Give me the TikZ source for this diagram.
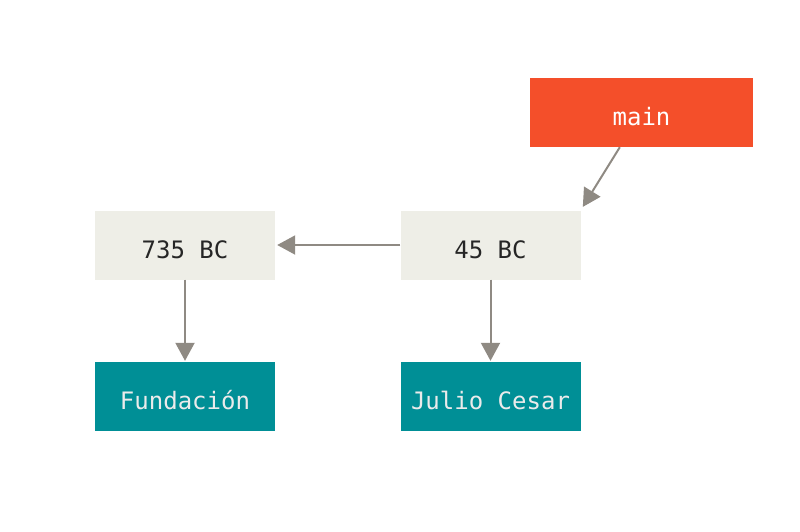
\documentclass[tikz,border=0pt]{standalone}
\usepackage{fontspec}
\setmonofont{DejaVu Sans Mono}
\usetikzlibrary{arrows.meta}
\definecolor{commitgray}{HTML}{EEEEE7}
\definecolor{branchred}{HTML}{F44F2A}
\definecolor{tagteal}{HTML}{008F96}
\definecolor{arrowgray}{HTML}{8F8A83}
\tikzstyle{commitbox} = [fill=commitgray, text=black!85, rectangle, minimum width=180pt,
    minimum height=69pt, inner sep=0pt, text height=26pt, text depth=0pt,
    font=\ttfamily\fontsize{24}{28}\selectfont]
\tikzstyle{branchbox} = [commitbox, fill=branchred, text=white, minimum width=223pt]
\tikzstyle{tagbox} = [commitbox, fill=tagteal, text=white!92!black]
\tikzstyle{pointer} = [draw=arrowgray, line width=2pt,
    -{Triangle[length=18pt,width=19pt]}, arrowgray]

\begin{document}
\begin{tikzpicture}[x=1pt, y=-1pt]
                \useasboundingbox (0,0) rectangle (800,531);
                \node [branchbox] (main) at (641.5,112.5) {main};
                \node [commitbox] (c735) at (185,245) {735 BC};
                \node [commitbox] (c45) at (490.5,245) {45 BC};
                \node [tagbox] (fundacion) at (185,396.5) {Fundación};
                \node [tagbox] (julio) at (490.5,396.5) {Julio Cesar};

                \draw [pointer, shorten >=4pt] (main.238) -- (c45.north east);
                \draw [pointer, shorten >=2pt] (c45.west) -- (c735.east);
                \draw [pointer, shorten >=1pt] (c735.south) -- (fundacion.north);
                \draw [pointer, shorten >=1pt] (c45.south) -- (julio.north);
            \end{tikzpicture}
\end{document}
